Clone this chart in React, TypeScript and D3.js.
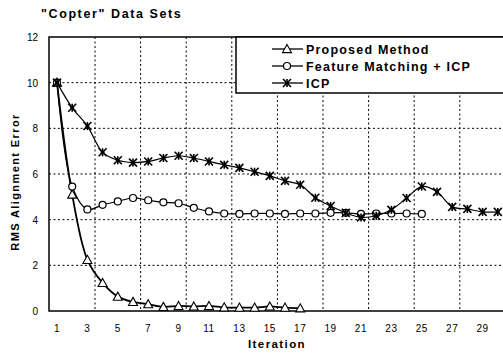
import React from "react";
import * as d3 from "d3";

const iterations = d3.range(1, 31);
const proposed = [10, 5.1, 2.24, 1.23, 0.63, 0.4, 0.3, 0.18, 0.22, 0.2, 0.22, 0.16, 0.15, 0.15, 0.2, 0.15, 0.12];
const featureICP = [10, 5.45, 4.45, 4.65, 4.8, 4.95, 4.85, 4.76, 4.72, 4.52, 4.36, 4.27, 4.25, 4.27, 4.27, 4.25, 4.27, 4.27, 4.3, 4.3, 4.25, 4.27, 4.27, 4.27, 4.25];
const icp = [10, 8.9, 8.1, 6.95, 6.6, 6.5, 6.55, 6.7, 6.8, 6.7, 6.55, 6.4, 6.27, 6.1, 5.92, 5.7, 5.53, 4.96, 4.6, 4.3, 4.1, 4.17, 4.43, 4.95, 5.45, 5.22, 4.56, 4.47, 4.34, 4.34];
const xTicks = [1, 3, 5, 7, 9, 11, 13, 15, 17, 19, 21, 23, 25, 27, 29];
const yTicks = [0, 2, 4, 6, 8, 10, 12];
const xGrid = [3.5, 6.5, 9.5, 12.5, 15.5, 18.5, 21.5, 24.5, 27.5];
const yGrid = [2, 4, 6, 8, 10];
const legendLabels = ["Proposed Method", "Feature Matching + ICP", "ICP"];
const title = "\"Copter\" Data Sets";

const FONT = "'Liberation Sans', Arial, sans-serif";

function Marker({ type, x, y }: { type: string; x: number; y: number }) {
  if (type === "tri") {
    const r = 4.5;
    return (
      <path
        d={`M${x},${y - r}L${x + r},${y + r * 0.8}L${x - r},${y + r * 0.8}Z`}
        fill="white"
        stroke="black"
        strokeWidth={1.1}
      />
    );
  }
  if (type === "circle") {
    return <circle cx={x} cy={y} r={3.5} fill="white" stroke="black" strokeWidth={1.2} />;
  }
  const r = 4;
  return (
    <g stroke="black" strokeWidth={1.6}>
      <line x1={x - r} y1={y - r} x2={x + r} y2={y + r} />
      <line x1={x - r} y1={y + r} x2={x + r} y2={y - r} />
      <line x1={x} y1={y - r} x2={x} y2={y + r} />
      <line x1={x - 2} y1={y} x2={x + 2} y2={y} />
    </g>
  );
}

export default function App() {
  const W = 503;
  const H = 356;
  const left = 49;
  const top = 37;
  const bottom = 311;
  const x = d3.scaleLinear().domain([0.5, 30.5]).range([49.4, 505.4]);
  const y = d3.scaleLinear().domain([0, 12]).range([bottom, top]);
  const right = x(30.5) + 4;

  const line = d3
    .line<number>()
    .x((_, i) => x(iterations[i]))
    .y((d) => y(d))
    .curve(d3.curveCatmullRom.alpha(0.5));

  const series = [
    { data: proposed, type: "tri", width: 1.8 },
    { data: featureICP, type: "circle", width: 1.2 },
    { data: icp, type: "star", width: 1.2 },
  ];

  const legendRows = [49, 66, 83];

  return (
    <svg
      width={W}
      height={H}
      style={{ position: "absolute", left: 0, top: 0, background: "white" }}
      fontFamily={FONT}
    >
      <rect x={0} y={0} width={W} height={H} fill="white" />
      <text x={41} y={18} fontSize={12.5} fontWeight="bold" letterSpacing={1.6}>
        {title}
      </text>
      {/* grid */}
      <g stroke="black" strokeWidth={1} strokeDasharray="2,2.5">
        {xGrid.map((g) => (
          <line key={"xg" + g} x1={x(g)} x2={x(g)} y1={top} y2={bottom} />
        ))}
        {yGrid.map((g) => (
          <line key={"yg" + g} x1={left} x2={right} y1={y(g)} y2={y(g)} />
        ))}
      </g>
      {/* frame */}
      <rect x={left} y={top} width={right - left} height={bottom - top} fill="none" stroke="black" strokeWidth={1.5} />
      {/* y ticks */}
      {yTicks.map((t) => (
        <text key={"yt" + t} x={38} y={y(t) + 4} fontSize={10} textAnchor="end">
          {t}
        </text>
      ))}
      {xTicks.map((t) => (
        <text key={"xt" + t} x={x(t)} y={332} fontSize={10} textAnchor="middle" letterSpacing={0.6}>
          {t}
        </text>
      ))}
      <text x={277} y={348} fontSize={11.5} fontWeight="bold" textAnchor="middle" letterSpacing={1.4}>
        Iteration
      </text>
      <text
        transform={`translate(19,182) rotate(-90)`}
        fontSize={11}
        fontWeight="bold"
        textAnchor="middle"
        letterSpacing={1.4}
      >
        RMS Alignment Error
      </text>
      {/* series */}
      {series.map((s, si) => (
        <g key={"s" + si}>
          <path d={line(s.data) || ""} fill="none" stroke="black" strokeWidth={s.width} />
          {s.data.map((v, i) => (
            <Marker key={i} type={s.type} x={x(iterations[i])} y={y(v)} />
          ))}
        </g>
      ))}
      {/* legend */}
      <rect x={236} y={top} width={280} height={93 - top} fill="white" stroke="black" strokeWidth={1.5} />
      {legendLabels.map((l, i) => (
        <g key={l}>
          <line x1={272} x2={303} y1={legendRows[i]} y2={legendRows[i]} stroke="black" strokeWidth={1.3} />
          <Marker type={series[i].type} x={287} y={legendRows[i]} />
          <text x={306} y={legendRows[i] + 4.5} fontSize={12.5} fontWeight="bold" letterSpacing={1.2}>
            {l}
          </text>
        </g>
      ))}
    </svg>
  );
}
